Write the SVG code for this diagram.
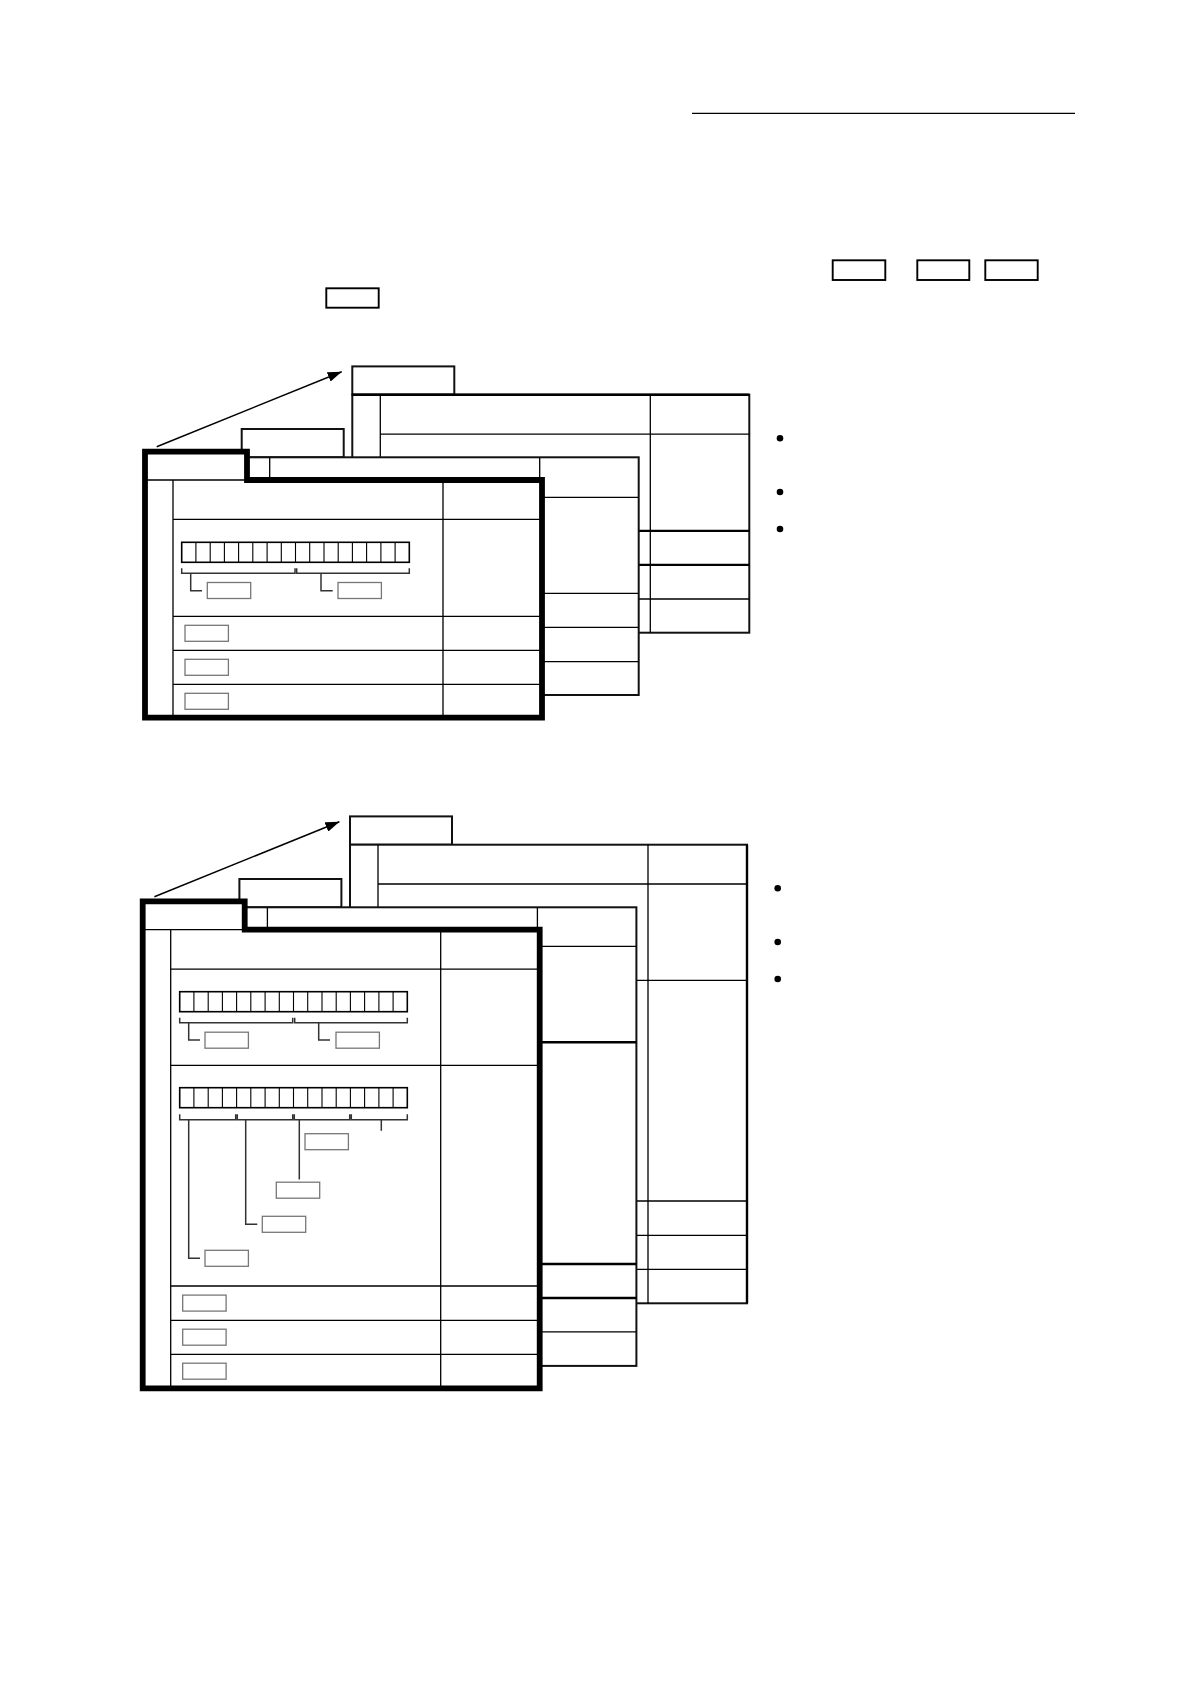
<svg xmlns="http://www.w3.org/2000/svg" xmlns:xlink="http://www.w3.org/1999/xlink" width="1190" height="1684" viewBox="0 0 1190 1684">
<style>
.tab,.body{fill:#fff;stroke:#111;stroke-width:2}
.grid{fill:none;stroke:#000;stroke-width:1.3}
.thk{fill:none;stroke:#000;stroke-width:2.4}
.frame{fill:#fff;stroke:#000;stroke-width:5.8;stroke-linejoin:miter}
.bitbox{fill:#fff;stroke:#000;stroke-width:1.6}
.bitline{stroke:#000;stroke-width:1.1}
.brk{fill:none;stroke:#333;stroke-width:1.5}
.lead{fill:none;stroke:#333;stroke-width:1.5}
.lbl{fill:#fff;stroke:#777;stroke-width:1.3}
.key{fill:#fff;stroke:#000;stroke-width:1.9}
.dot{fill:#000}
.arr{stroke:#000;stroke-width:1.5;fill:none}
</style>
<defs>
<marker id="ah" viewBox="0 0 14 10" refX="14" refY="5" markerWidth="14" markerHeight="10" markerUnits="userSpaceOnUse" orient="auto">
<path d="M0,0L14,5L0,10Z" fill="#000"/>
</marker>
<g id="bits">
<rect class="bitbox" x="0" y="0" width="227.6" height="20"/>
<path class="bitline" d="M14.2,0V20M28.5,0V20M42.7,0V20M56.9,0V20M71.1,0V20M85.4,0V20M99.6,0V20M113.8,0V20M128,0V20M142.3,0V20M156.5,0V20M170.7,0V20M184.9,0V20M199.2,0V20M213.4,0V20"/>
</g>
<rect id="lb" class="lbl" x="0" y="0" width="43.4" height="16"/>
</defs>
<rect width="1190" height="1684" fill="#fff"/>

<g id="header">
<line x1="692" y1="113.3" x2="1075" y2="113.3" stroke="#000" stroke-width="1.3"/>
<rect class="key" x="832.7" y="260.3" width="52.6" height="19.7"/>
<rect class="key" x="917.3" y="260.3" width="52" height="19.7"/>
<rect class="key" x="985.3" y="260.3" width="52.4" height="19.7"/>
<rect class="key" x="326.3" y="288.3" width="52.4" height="19.4"/>
</g>

<!-- Stack 1 -->
<g id="s1-layer3" transform="translate(352.3,394.7)">
<rect class="tab" x="0" y="-28.3" width="102" height="28.3"/>
<rect class="body" x="0" y="0" width="397" height="238"/>
<path class="grid" d="M28,0V238M298,0V238M28,39.5H397M28,204.3H397"/>
<path class="thk" d="M0,0H397M28,136.2H397M28,170.2H397"/>
</g>
<g id="s1-layer2" transform="translate(241.7,457.3)">
<rect class="tab" x="0" y="-28.3" width="102" height="28.3"/>
<rect class="body" x="0" y="0" width="397" height="237.7"/>
<path class="grid" d="M28,0V237.7M298,0V237.7M28,40H397M28,136H397M28,170H397M28,204.4H397"/>
</g>
<g id="s1-front" transform="translate(145,480)">
<path class="frame" d="M0,0V-28.3H102V0H397V237.7H0Z"/>
<path class="grid" d="M0,0H102M28,0V237.7M298,0V237.7M28,39.3H397M28,136.3H397M28,170.3H397M28,204.3H397"/>
<use xlink:href="#bits" x="36.7" y="62.3"/>
<path class="brk" d="M36.7,88.3V93.3H150V88.3M151.7,88.3V93.3H264.3V88.3"/>
<use xlink:href="#lb" x="62.3" y="102.5"/>
<use xlink:href="#lb" x="193" y="102.5"/>
<use xlink:href="#lb" x="40" y="145.3"/>
<use xlink:href="#lb" x="40" y="179.3"/>
<use xlink:href="#lb" x="40" y="213.3"/>
</g>
<g id="s1-notes">
<circle class="dot" cx="780" cy="438.3" r="3.3"/>
<circle class="dot" cx="780" cy="492" r="3.3"/>
<circle class="dot" cx="780" cy="529" r="3.3"/>
</g>

<!-- Stack 2 -->
<g id="s2-layer3" transform="translate(350,844.7)">
<rect class="tab" x="0" y="-28.3" width="102" height="28.3"/>
<rect class="body" x="0" y="0" width="397" height="458.6"/>
<path class="grid" d="M28,0V458.6M298,0V458.6M28,39.3H397M28,135.6H397M28,356.3H397M28,390.6H397M28,424.6H397"/>
<path class="thk" d="M397,0V458.6"/>
</g>
<g id="s2-layer2" transform="translate(239.4,907.3)">
<rect class="tab" x="0" y="-28.3" width="102" height="28.3"/>
<rect class="body" x="0" y="0" width="397" height="458.6"/>
<path class="grid" d="M28,0V458.6M298,0V458.6M28,39H397M28,424.6H397"/>
<path class="thk" d="M28,135H397M28,356.7H397M28,390.7H397"/>
</g>
<g id="s2-front" transform="translate(142.7,929.7)">
<path class="frame" d="M0,0V-28.3H102V0H397V458.6H0Z"/>
<path class="grid" d="M0,0H102M28,0V458.6M298,0V458.6M28,39.5H397M28,135.6H397M28,356.3H397M28,390.6H397M28,424.6H397"/>
<use xlink:href="#bits" x="37" y="62"/>
<path class="brk" d="M37,88V93H150V88M152,88V93H264.6V88"/>
<use xlink:href="#lb" x="62.3" y="102.5"/>
<use xlink:href="#lb" x="193.3" y="102.5"/>
<use xlink:href="#bits" x="37" y="158"/>
<path class="brk" d="M37,184.5V190H93V184.5M94.6,184.5V190H150V184.5M151.6,184.5V190H207V184.5M208.6,184.5V190H264.6V184.5"/>
<use xlink:href="#lb" x="62.3" y="320.6"/>
<use xlink:href="#lb" x="119.6" y="286.6"/>
<use xlink:href="#lb" x="133.6" y="252.5"/>
<use xlink:href="#lb" x="162.3" y="204"/>
<use xlink:href="#lb" x="40" y="365.4"/>
<use xlink:href="#lb" x="40" y="399.5"/>
<use xlink:href="#lb" x="40" y="433.5"/>
</g>
<g id="s2-notes">
<circle class="dot" cx="777.7" cy="888.3" r="3.3"/>
<circle class="dot" cx="777.7" cy="942" r="3.3"/>
<circle class="dot" cx="777.7" cy="979" r="3.3"/>
</g>

<g id="connectors">
<line class="arr" x1="156.7" y1="446.7" x2="341.7" y2="371.7" marker-end="url(#ah)"/>
<line class="arr" x1="154.4" y1="896.7" x2="339.4" y2="821.7" marker-end="url(#ah)"/>
<path class="lead" d="M190.7,573.3V590.7H202M321,573.3V590.7H332.7"/>
<path class="lead" d="M188.7,1022.7V1040H200M318.7,1022.7V1040H330"/>
<path class="lead" d="M188.7,1119.7V1258.3H200M245.7,1119.7V1224.3H257.3M299.3,1119.7V1179.5M381.3,1119.7V1130.7"/>
</g>
</svg>
